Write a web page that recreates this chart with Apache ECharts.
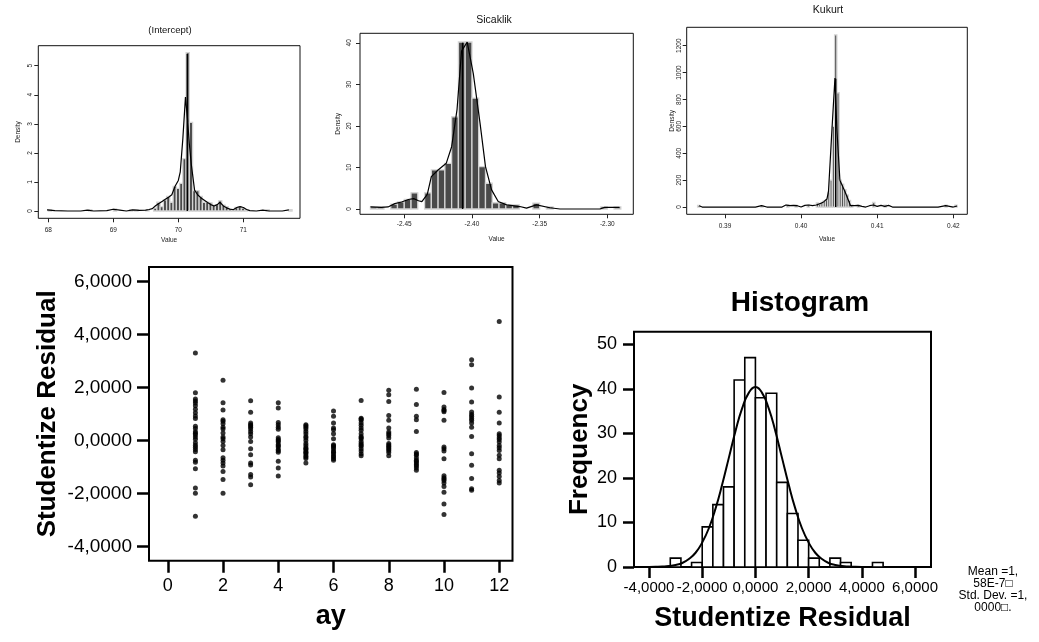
<!DOCTYPE html>
<html><head><meta charset="utf-8">
<script src="https://cdn.jsdelivr.net/npm/echarts@6/dist/echarts.min.js"></script>
<style>html,body{margin:0;padding:0;background:#fff}#c{width:1039px;height:642px}</style>
</head><body><div id="c"></div>
<script>
// ---------- Top panel 1: (Intercept) ----------
const p1Title = '(Intercept)';
const p1XTicks = [68, 69, 70, 71];
const p1YTicks = [0, 1, 2, 3, 4, 5];
const p1BinWidth = 0.05;
const p1BinStart = [68.00, 68.62, 69.00, 69.25, 69.33, 69.50, 69.62, 69.67, 69.72, 69.77, 69.82, 69.87, 69.92, 69.97, 70.02, 70.07, 70.12, 70.17, 70.22, 70.27, 70.32, 70.37, 70.42, 70.47, 70.52, 70.57, 70.62, 70.67, 70.72, 70.77, 70.82, 70.87, 70.92, 70.97, 71.02, 71.35, 71.70];
const p1BinHeight = [0.05, 0.04, 0.07, 0.05, 0.05, 0.04, 0.10, 0.30, 0.15, 0.38, 0.50, 0.30, 0.85, 0.78, 0.95, 1.80, 5.45, 3.05, 0.70, 0.70, 0.50, 0.30, 0.30, 0.28, 0.20, 0.22, 0.35, 0.20, 0.15, 0.08, 0.05, 0.12, 0.15, 0.10, 0.05, 0.04, 0.05];
const p1DensX = [67.98, 68.1, 68.3, 68.5, 68.6, 68.7, 68.9, 69.0, 69.1, 69.2, 69.3, 69.4, 69.5, 69.55, 69.6, 69.65, 69.7, 69.75, 69.8, 69.85, 69.9, 69.95, 70.0, 70.03, 70.07, 70.11, 70.14, 70.17, 70.2, 70.25, 70.3, 70.35, 70.4, 70.45, 70.5, 70.55, 70.6, 70.64, 70.7, 70.75, 70.8, 70.85, 70.9, 70.95, 71.0, 71.05, 71.1, 71.2, 71.3, 71.4, 71.5, 71.6, 71.7];
const p1DensY = [0.04, 0.01, 0.0, 0.0, 0.03, 0.0, 0.01, 0.06, 0.03, 0.0, 0.04, 0.02, 0.03, 0.05, 0.08, 0.18, 0.26, 0.33, 0.40, 0.47, 0.56, 0.85, 1.05, 1.35, 2.5, 3.92, 3.2, 2.3, 1.6, 0.72, 0.55, 0.45, 0.37, 0.29, 0.22, 0.17, 0.22, 0.30, 0.16, 0.10, 0.06, 0.05, 0.12, 0.15, 0.12, 0.05, 0.01, 0.0, 0.03, 0.0, 0.0, 0.0, 0.04];
const p1MarkX = 70.138, p1MarkTop = 5.4;

// ---------- Top panel 2: Sicaklik ----------
const p2Title = 'Sicaklik';
const p2XTicks = [-2.45, -2.40, -2.35, -2.30];
const p2YTicks = [0, 10, 20, 30, 40];
const p2BinWidth = 0.005;
const p2BinStart = [-2.475, -2.470, -2.460, -2.455, -2.450, -2.445, -2.435, -2.430, -2.425, -2.420, -2.415, -2.410, -2.405, -2.400, -2.395, -2.390, -2.385, -2.380, -2.375, -2.370, -2.355, -2.345, -2.305, -2.295];
const p2BinHeight = [0.5, 0.5, 1.2, 1.7, 2.3, 3.9, 3.9, 9.4, 9.4, 11.0, 22.2, 40.2, 40.2, 26.7, 10.2, 6.2, 1.5, 1.5, 1.0, 1.0, 1.4, 0.5, 0.5, 0.5];
const p2DensX = [-2.475, -2.467, -2.462, -2.457, -2.452, -2.447, -2.443, -2.4395, -2.437, -2.433, -2.430, -2.425, -2.419, -2.415, -2.411, -2.4077, -2.4035, -2.399, -2.394, -2.390, -2.3855, -2.3806, -2.3744, -2.3646, -2.3597, -2.3523, -2.3424, -2.335, -2.3055, -2.302, -2.291];
const p2DensY = [0.5, 0.4, 0.5, 1.3, 1.7, 2.3, 2.5, 2.0, 1.8, 3.5, 7.8, 9.4, 11.0, 15.0, 24.0, 38.0, 40.2, 32.6, 20.6, 10.2, 4.6, 1.8, 1.0, 0.6, 0.2, 1.0, 0.3, 0.0, 0.0, 0.4, 0.4];
const p2MarkX = -2.4069, p2MarkTop = 40;

// ---------- Top panel 3: Kukurt ----------
const p3Title = 'Kukurt';
const p3XTicks = [0.39, 0.40, 0.41, 0.42];
const p3YTicks = [0, 200, 400, 600, 800, 1000, 1200];
const p3BinWidth = 0.0003;
const p3BinStart = [0.3864, 0.3947, 0.3981, 0.3992, 0.4008, 0.4020, 0.4023, 0.4026, 0.4029, 0.4032, 0.4035, 0.4038, 0.4041, 0.4044, 0.4047, 0.4050, 0.4053, 0.4056, 0.4059, 0.4062, 0.4065, 0.4074, 0.4094, 0.4109, 0.4189, 0.4202];
const p3BinHeight = [12, 10, 18, 12, 14, 30, 20, 35, 45, 55, 110, 200, 600, 1280, 850, 200, 170, 130, 90, 50, 15, 14, 35, 14, 14, 14];
const p3DensX = [0.3866, 0.387, 0.390, 0.394, 0.3948, 0.3955, 0.3975, 0.398, 0.3985, 0.399, 0.3995, 0.400, 0.4005, 0.401, 0.4015, 0.402, 0.4025, 0.403, 0.4034, 0.4036, 0.4040, 0.40445, 0.4047, 0.4051, 0.4058, 0.4065, 0.407, 0.4075, 0.408, 0.4085, 0.409, 0.4095, 0.410, 0.4105, 0.411, 0.4115, 0.412, 0.418, 0.419, 0.4195, 0.420, 0.4205];
const p3DensY = [10, 0, 0, 0, 10, 0, 0, 15, 10, 12, 10, 0, 12, 15, 10, 15, 25, 40, 60, 115, 520, 960, 580, 200, 110, 10, 10, 12, 5, 0, 10, 15, 5, 12, 5, 12, 0, 0, 10, 5, 0, 8];
const p3MarkX = 0.40455, p3MarkTop = 955;

// ---------- Scatter: Studentize Residual by ay ----------
const months = [1, 2, 3, 4, 5, 6, 7, 8, 9, 10, 11, 12];
const m1 = [3.31, 1.81, 1.57, 1.50, 1.42, 1.32, 1.19, 1.05, 0.93, 0.84, 0.54, 0.46, 0.34, 0.28, 0.22, 0.14, 0.05, -0.08, -0.17, -0.25, -0.33, -0.42, -0.74, -0.81, -1.06, -1.79, -1.98, -2.85];
const m2 = [2.28, 1.43, 1.16, 0.79, 0.73, 0.64, 0.51, 0.44, 0.29, 0.14, 0.07, -0.03, -0.18, -0.34, -0.64, -0.74, -0.84, -0.96, -1.16, -1.47, -1.98];
const m3 = [1.51, 1.07, 0.67, 0.60, 0.56, 0.51, 0.44, 0.35, 0.26, 0.14, -0.03, -0.30, -0.53, -0.84, -0.92, -1.28, -1.37, -1.66];
const m4 = [1.43, 1.23, 0.69, 0.60, 0.51, 0.43, 0.11, 0.04, 0.0, -0.05, -0.14, -0.19, -0.24, -0.33, -0.38, -0.44, -0.78, -1.03, -1.33];
const m5 = [0.60, 0.56, 0.51, 0.44, 0.35, 0.26, 0.16, 0.10, 0.01, -0.11, -0.18, -0.27, -0.30, -0.34, -0.42, -0.45, -0.49, -0.57, -0.62, -0.67, -0.84];
const m6 = [1.12, 0.92, 0.67, 0.48, 0.41, 0.26, 0.07, -0.15, -0.19, -0.24, -0.30, -0.39, -0.44, -0.49, -0.57, -0.62, -0.68, -0.74];
const m7 = [1.52, 0.85, 0.82, 0.77, 0.67, 0.58, 0.48, 0.39, 0.26, 0.16, 0.11, 0.07, -0.03, -0.11, -0.16, -0.21, -0.30, -0.39, -0.49, -0.57];
const m8 = [1.90, 1.73, 1.48, 0.95, 0.77, 0.48, 0.33, 0.26, 0.20, 0.10, -0.11, -0.16, -0.21, -0.27, -0.31, -0.37, -0.45, -0.57];
const m9 = [1.94, 1.37, 0.92, 0.79, 0.35, -0.45, -0.50, -0.55, -0.65, -0.74, -0.79, -0.84, -0.91, -0.96, -1.03, -1.12];
const m10 = [1.82, 1.27, 1.18, 1.14, 1.09, 0.77, -0.24, -0.30, -0.39, -0.68, -1.32, -1.40, -1.45, -1.50, -1.60, -1.73, -1.95, -2.39, -2.79];
const m11 = [3.05, 2.87, 1.99, 1.46, 1.08, 0.99, 0.92, 0.84, 0.77, 0.67, 0.51, 0.16, -0.49, -0.93, -1.43, -1.81, -1.87];
const m12 = [4.50, 1.65, 1.07, 0.67, 0.26, 0.20, 0.11, 0.04, -0.05, -0.18, -0.27, -0.37, -0.55, -0.68, -1.12, -1.22, -1.35, -1.50, -1.60];
const monthValues = [m1, m2, m3, m4, m5, m6, m7, m8, m9, m10, m11, m12];
const scatterXTicks = [0, 2, 4, 6, 8, 10, 12];
const scatterYTicks = [-4, -2, 0, 2, 4, 6];

// ---------- Histogram of Studentize Residual ----------
const histBinWidth = 0.4;
const histBinStart = [-3.2, -2.8, -2.4, -2.0, -1.6, -1.2, -0.8, -0.4, 0.0, 0.4, 0.8, 1.2, 1.6, 2.0, 2.4, 2.8, 3.2, 3.6, 4.0, 4.4];
const histCount = [2, 0, 1, 9, 14, 18, 42, 47, 38, 39, 19, 12, 6, 2, 0, 2, 1, 0, 0, 1];
const curveX = [-4, -3.75, -3.5, -3.25, -3, -2.75, -2.5, -2.25, -2, -1.75, -1.5, -1.25, -1, -0.75, -0.5, -0.25, 0, 0.25, 0.5, 0.75, 1, 1.25, 1.5, 1.75, 2, 2.25, 2.5, 2.75, 3, 3.25, 3.5, 3.75, 4];
const curveY = [0.01, 0.04, 0.09, 0.2, 0.45, 0.9, 1.8, 3.2, 5.5, 8.7, 13.1, 18.5, 24.5, 30.5, 35.6, 39.1, 40.4, 39.1, 35.6, 30.5, 24.5, 18.5, 13.1, 8.7, 5.5, 3.2, 1.8, 0.9, 0.45, 0.2, 0.09, 0.04, 0.01];
const histXTicks = [-4, -2, 0, 2, 4, 6];
const histYTicks = [0, 10, 20, 30, 40, 50];
const statsText = 'Mean =1,\n58E-7\u25A1\nStd. Dev. =1,\n0000\u25A1.';

// ---------- build ----------
const FONT = "'Liberation Sans', Arial, Helvetica, sans-serif";
const comma4 = v => v.toFixed(4).replace('.', ',');

function barRender(fill, stroke, lw) {
  return function (params, api) {
    const x0 = api.value(0), h = api.value(1), w = api.value(2);
    const a = api.coord([x0, h]);
    const b = api.coord([x0 + w, 0]);
    return { type: 'rect', shape: { x: a[0], y: a[1], width: b[0] - a[0], height: b[1] - a[1] },
      style: { fill: fill, stroke: stroke, lineWidth: lw } };
  };
}
const zip = (xs, ys) => xs.map((x, i) => [x, ys[i]]);
const bins = (st, hs, w) => st.map((s, i) => [s, hs[i], w]).filter(d => d[1] > 0);

const grids = [
  { left: 38.3, top: 45.7, width: 261.7, height: 172.6 },
  { left: 360, top: 33.3, width: 273.3, height: 181 },
  { left: 686.7, top: 27.3, width: 280.6, height: 187 },
  { left: 149, top: 267, width: 363.5, height: 293.7 },
  { left: 634, top: 331.7, width: 297, height: 235.3 }
].map((g, i) => Object.assign({ show: true, backgroundColor: 'transparent',
  borderColor: i < 3 ? '#111' : '#000', borderWidth: i < 3 ? 1 : 2, containLabel: false }, g));

const topPanels = [
  { title: p1Title, xt: p1XTicks, yt: p1YTicks, xr: [67.846, 71.872], yr: [-0.252, 5.69], bs: p1BinStart, bh: p1BinHeight, bw: p1BinWidth, dx: p1DensX, dy: p1DensY, mx: p1MarkX, mt: p1MarkTop,
    xMargin: 8.5, yMargin: 5, xGap: 18.4, yGap: 17, tx: 170, ty: 25, dec: 0 },
  { title: p2Title, xt: p2XTicks, yt: p2YTicks, xr: [-2.4827, -2.2808], yr: [-1.27, 42.3], bs: p2BinStart, bh: p2BinHeight, bw: p2BinWidth, dx: p2DensX, dy: p2DensY, mx: p2MarkX, mt: p2MarkTop,
    xMargin: 6.7, yMargin: 7.5, xGap: 21.5, yGap: 18.7, tx: 494, ty: 14.5, dec: 2 },
  { title: p3Title, xt: p3XTicks, yt: p3YTicks, xr: [0.38497, 0.42184], yr: [-54, 1337], bs: p3BinStart, bh: p3BinHeight, bw: p3BinWidth, dx: p3DensX, dy: p3DensY, mx: p3MarkX, mt: p3MarkTop,
    xMargin: 8.5, yMargin: 3.5, xGap: 21.5, yGap: 10.5, tx: 828, ty: 5, dec: 2 }
];

const xAxis = [], yAxis = [], series = [], titles = [];
topPanels.forEach((p, i) => {
  const small = { fontFamily: FONT, fontSize: 6.5, color: '#222' };
  xAxis.push({ type: 'value', gridIndex: i, min: p.xr[0], max: p.xr[1], splitLine: { show: false }, axisLine: { show: false, onZero: false },
    axisTick: { show: true, length: 4, customValues: p.xt, lineStyle: { color: '#222', width: 1 } },
    axisLabel: Object.assign({ customValues: p.xt, margin: p.xMargin, formatter: (v => v.toFixed(p.dec)) }, small),
    name: 'Value', nameLocation: 'middle', nameGap: p.xGap, nameTextStyle: Object.assign({}, small) });
  yAxis.push({ type: 'value', gridIndex: i, min: p.yr[0], max: p.yr[1], splitLine: { show: false }, axisLine: { show: false, onZero: false },
    axisTick: { show: true, length: 4, customValues: p.yt, lineStyle: { color: '#222', width: 1 } },
    axisLabel: Object.assign({ customValues: p.yt, margin: p.yMargin, rotate: 90, formatter: (v => String(Math.round(v))) }, small),
    name: 'Density', nameLocation: 'middle', nameGap: p.yGap, nameTextStyle: Object.assign({}, small) });
  series.push({ type: 'custom', xAxisIndex: i, yAxisIndex: i, coordinateSystem: 'cartesian2d', renderItem: barRender('#4a4a4a', '#d4d4d4', 1.3),
    data: bins(p.bs, p.bh, p.bw), encode: { x: 0, y: 1 }, silent: true });
  series.push({ type: 'line', xAxisIndex: i, yAxisIndex: i, data: zip(p.dx, p.dy), showSymbol: false, symbol: 'none',
    lineStyle: { color: '#000', width: 1.2 }, z: 3, silent: true });
  series.push({ type: 'line', xAxisIndex: i, yAxisIndex: i, data: [[p.mx, 0], [p.mx, p.mt]], showSymbol: false, symbol: 'none',
    lineStyle: { color: '#000', width: 1.4 }, z: 4, silent: true });
  titles.push({ text: p.title, left: p.tx, top: p.ty, textAlign: 'center', padding: 0,
    textStyle: { fontFamily: FONT, fontSize: i === 0 ? 9.5 : 10.5, fontWeight: 'normal', color: '#111' } });
});

// scatter axes (index 3)
xAxis.push({ type: 'value', gridIndex: 3, min: -0.68, max: 12.48, splitLine: { show: false }, axisLine: { show: false, onZero: false },
  axisTick: { show: true, length: 12, customValues: scatterXTicks, lineStyle: { color: '#000', width: 2.5 } },
  axisLabel: { customValues: scatterXTicks, margin: 16, fontFamily: FONT, fontSize: 18, color: '#000' },
  name: 'ay', nameLocation: 'middle', nameGap: 42, nameTextStyle: { fontFamily: FONT, fontSize: 27, fontWeight: 'bold', color: '#000' } });
yAxis.push({ type: 'value', gridIndex: 3, min: -4.53, max: 6.555, splitLine: { show: false }, axisLine: { show: false, onZero: false },
  axisTick: { show: true, length: 12, customValues: scatterYTicks, lineStyle: { color: '#000', width: 2.5 } },
  axisLabel: { customValues: scatterYTicks, margin: 17, fontFamily: FONT, fontSize: 19, color: '#000', formatter: comma4 },
  name: 'Studentize Residual', nameLocation: 'middle', nameGap: 88, nameTextStyle: { fontFamily: FONT, fontSize: 26, fontWeight: 'bold', color: '#000' } });
const scatterData = [];
monthValues.forEach((vals, i) => vals.forEach(v => scatterData.push([months[i], v])));
series.push({ type: 'scatter', xAxisIndex: 3, yAxisIndex: 3, data: scatterData, symbol: 'circle', symbolSize: 5,
  itemStyle: { color: '#000' }, silent: true });

// histogram axes (index 4)
xAxis.push({ type: 'value', gridIndex: 4, min: -4.564, max: 6.6, splitLine: { show: false }, axisLine: { show: false, onZero: false },
  axisTick: { show: true, length: 11, customValues: histXTicks, lineStyle: { color: '#000', width: 2.5 } },
  axisLabel: { customValues: histXTicks, margin: 13, fontFamily: FONT, fontSize: 15, color: '#000', formatter: comma4 },
  name: 'Studentize Residual', nameLocation: 'middle', nameGap: 38, nameTextStyle: { fontFamily: FONT, fontSize: 27, fontWeight: 'bold', color: '#000' } });
yAxis.push({ type: 'value', gridIndex: 4, min: 0, max: 52.83, splitLine: { show: false }, axisLine: { show: false, onZero: false },
  axisTick: { show: true, length: 11, customValues: histYTicks, lineStyle: { color: '#000', width: 2.5 } },
  axisLabel: { customValues: histYTicks, margin: 17, fontFamily: FONT, fontSize: 18, color: '#000' },
  name: 'Frequency', nameLocation: 'middle', nameGap: 40, nameTextStyle: { fontFamily: FONT, fontSize: 26, fontWeight: 'bold', color: '#000' } });
series.push({ type: 'custom', xAxisIndex: 4, yAxisIndex: 4, coordinateSystem: 'cartesian2d', renderItem: barRender('#fff', '#000', 1.6),
  data: bins(histBinStart, histCount, histBinWidth), encode: { x: 0, y: 1 }, silent: true });
series.push({ type: 'line', xAxisIndex: 4, yAxisIndex: 4, data: zip(curveX, curveY), smooth: true, showSymbol: false, symbol: 'none',
  lineStyle: { color: '#000', width: 2 }, z: 3, silent: true });
titles.push({ text: 'Histogram', left: 800, top: 289, textAlign: 'center', padding: 0,
  textStyle: { fontFamily: FONT, fontSize: 28, fontWeight: 'bold', color: '#000' } });

const chart = echarts.init(document.getElementById('c'), null, { renderer: 'canvas' });
chart.setOption({
  animation: false,
  backgroundColor: '#fff',
  title: titles,
  grid: grids,
  xAxis: xAxis,
  yAxis: yAxis,
  series: series,
  graphic: [{ type: 'text', x: 993, y: 566, silent: true,
    style: { text: statsText, textAlign: 'center', textVerticalAlign: 'top', fontFamily: FONT, fontSize: 12, lineHeight: 12, fill: '#000' } }]
});
</script></body></html>
